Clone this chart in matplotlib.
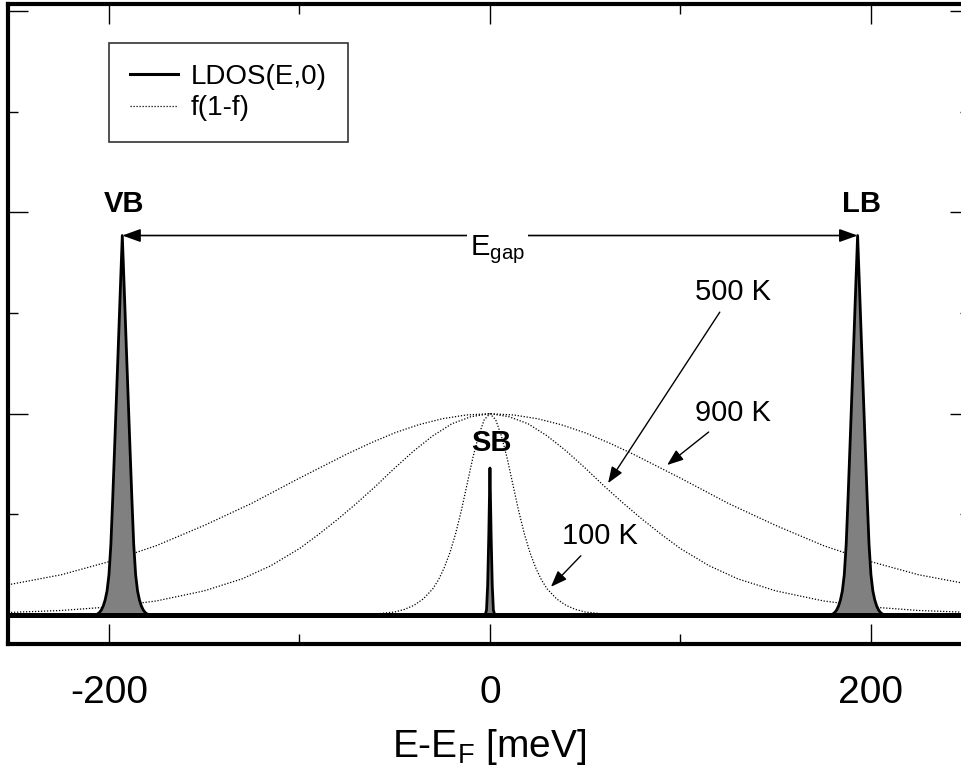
# LDOS at the surface vs. thermal window f(1-f) for three temperatures
import numpy as np
import matplotlib
matplotlib.use("Agg")
import matplotlib.pyplot as plt
from matplotlib.lines import Line2D

plt.rcParams["font.family"] = ["Liberation Sans", "DejaVu Sans"]
plt.rcParams["mathtext.default"] = "regular"
plt.rcParams["axes.unicode_minus"] = False

# ---- data (energies in meV, LDOS / f(1-f) in arb. units) ----
vb_E = [-208, -207, -206, -205, -204, -203, -202, -201, -200, -199, -198, -197, -196, -195, -194,
        -193, -192, -191, -190, -189, -188, -187, -186, -185, -184, -183, -182, -181, -180, -179, -178]
vb_ldos = [0.0, 0.004, 0.01, 0.025, 0.05, 0.09, 0.15, 0.24, 0.40, 0.70, 1.17, 1.68, 2.2, 2.72, 3.25,
           3.77, 3.25, 2.72, 2.2, 1.68, 1.17, 0.70, 0.40, 0.24, 0.15, 0.09, 0.05, 0.025, 0.01, 0.004, 0.0]

sb_E = [-2.5, -1.8, -1.2, -0.6, 0.0, 0.6, 1.2, 1.8, 2.5]
sb_ldos = [0.0, 0.05, 0.3, 0.8, 1.46, 0.8, 0.3, 0.05, 0.0]

lb_E = [178, 179, 180, 181, 182, 183, 184, 185, 186, 187, 188, 189, 190, 191, 192,
        193, 194, 195, 196, 197, 198, 199, 200, 201, 202, 203, 204, 205, 206, 207, 208]
lb_ldos = [0.0, 0.004, 0.01, 0.025, 0.05, 0.09, 0.15, 0.24, 0.40, 0.70, 1.17, 1.68, 2.2, 2.72, 3.25,
           3.77, 3.25, 2.72, 2.2, 1.68, 1.17, 0.70, 0.40, 0.24, 0.15, 0.09, 0.05, 0.025, 0.01, 0.004, 0.0]

E_900 = [-253, -225, -200, -175, -150, -125, -100, -87.5, -75, -62.5, -50, -37.5, -25, -12.5, 0,
         12.5, 25, 37.5, 50, 62.5, 75, 87.5, 100, 125, 150, 175, 200, 225, 253]
f_900 = [0.30, 0.40, 0.53, 0.69, 0.89, 1.11, 1.36, 1.48, 1.60, 1.71, 1.81, 1.89, 1.95, 1.987, 2.00,
         1.987, 1.95, 1.89, 1.81, 1.71, 1.60, 1.48, 1.36, 1.11, 0.89, 0.69, 0.53, 0.40, 0.30]

E_500 = [-253, -225, -200, -175, -150, -130, -115, -100, -90, -80, -70, -60, -50, -40, -30, -20, -10, 0,
         10, 20, 30, 40, 50, 60, 70, 80, 90, 100, 115, 130, 150, 175, 200, 225, 253]
f_500 = [0.025, 0.045, 0.08, 0.14, 0.24, 0.36, 0.49, 0.66, 0.80, 0.95, 1.11, 1.28, 1.46, 1.63, 1.78, 1.90, 1.97, 2.00,
         1.97, 1.90, 1.78, 1.63, 1.46, 1.28, 1.11, 0.95, 0.80, 0.66, 0.49, 0.36, 0.24, 0.14, 0.08, 0.045, 0.025]

E_100 = [-253, -80, -70, -60, -50, -45, -40, -35, -30, -27, -24, -21, -18, -15, -12, -9, -6, -3, 0,
         3, 6, 9, 12, 15, 18, 21, 24, 27, 30, 35, 40, 45, 50, 60, 70, 80, 253]
f_100 = [0.0, 0.001, 0.003, 0.01, 0.03, 0.055, 0.095, 0.16, 0.26, 0.35, 0.47, 0.62, 0.81, 1.04, 1.30, 1.56, 1.78, 1.94, 2.00,
         1.94, 1.78, 1.56, 1.30, 1.04, 0.81, 0.62, 0.47, 0.35, 0.26, 0.16, 0.095, 0.055, 0.03, 0.01, 0.003, 0.001, 0.0]

ldos_E = [-253] + vb_E + sb_E + lb_E + [253]
ldos = [0.0] + vb_ldos + sb_ldos + lb_ldos + [0.0]

# ---- figure ----
fig = plt.figure(figsize=(9.61, 7.76), dpi=100)
ax = fig.add_axes([8 / 961, 132 / 776, 962 / 961, 640 / 776])
ax.set_xlim(-253, 252)
ax.set_ylim(-0.288, 6.07)

dots = (0, (1, 1.4))
for E, f in [(E_900, f_900), (E_500, f_500), (E_100, f_100)]:
    ax.plot(E, f, color="k", lw=0.9, ls=dots, zorder=1)

ax.fill_between(ldos_E, ldos, 0, color="#808080", lw=0, zorder=2)
ax.plot(ldos_E, ldos, color="k", lw=2.0, zorder=3)
ax.axhline(0, color="k", lw=3.6, zorder=3)

# labels on the bands
ax.text(-192, 4.08, "VB", fontsize=21, fontweight="bold", ha="center", va="center")
ax.text(195, 4.08, "LB", fontsize=21, fontweight="bold", ha="center", va="center")
ax.text(1, 1.71, "SB", fontsize=21, fontweight="bold", ha="center", va="center")

# gap arrow
ax.annotate("", xy=(-193, 3.77), xytext=(193, 3.77),
            arrowprops=dict(arrowstyle="<|-|>,head_length=0.5,head_width=0.18", color="k",
                            lw=1.2, mutation_scale=22, shrinkA=0, shrinkB=0), zorder=4)
ax.text(4, 3.63, "E$_{gap}$", fontsize=21, ha="center", va="center", zorder=5,
        bbox=dict(facecolor="white", edgecolor="none", pad=2))

# temperature arrows
arr = dict(arrowstyle="-|>,head_length=0.45,head_width=0.17", color="k", lw=1.0,
           mutation_scale=22, shrinkA=3, shrinkB=0)
ax.annotate("500 K", xy=(62, 1.31), xytext=(127.6, 3.21), fontsize=21,
            ha="center", va="center", arrowprops=arr)
ax.annotate("900 K", xy=(93, 1.49), xytext=(127.6, 2.01), fontsize=21,
            ha="center", va="center", arrowprops=arr)
ax.annotate("100 K", xy=(32, 0.28), xytext=(57.7, 0.785), fontsize=21,
            ha="center", va="center", arrowprops=arr)

# axes cosmetics
ax.set_xticks([-200, 0, 200])
ax.set_xticks([-100, 100], minor=True)
ax.set_yticks([0, 2, 4, 6])
ax.set_yticks([1, 3, 5], minor=True)
ax.tick_params(which="both", direction="in", top=True, right=True, width=1.0)
ax.tick_params(which="major", length=14.5, labelsize=28, pad=22)
ax.tick_params(which="minor", length=7.2)
ax.tick_params(axis="y", labelleft=False)
for s in ax.spines.values():
    s.set_linewidth(3)
ax.set_xlabel("E-E$_F$ [meV]", fontsize=28, labelpad=12)

handles = [Line2D([], [], color="k", lw=2.2), Line2D([], [], color="k", lw=0.9, ls=dots)]
leg = ax.legend(handles, ["LDOS(E,0)", "f(1-f)"], loc="upper left",
                bbox_to_anchor=(109 / 961, 1 - 43 / 776), bbox_transform=fig.transFigure,
                fontsize=20, frameon=True, fancybox=False, borderaxespad=0,
                borderpad=0.75, handlelength=1.75, handletextpad=0.45, labelspacing=0.2)
leg.get_frame().set_edgecolor("k")
leg.get_frame().set_linewidth(1.2)

fig.savefig("out.png", dpi=100)
